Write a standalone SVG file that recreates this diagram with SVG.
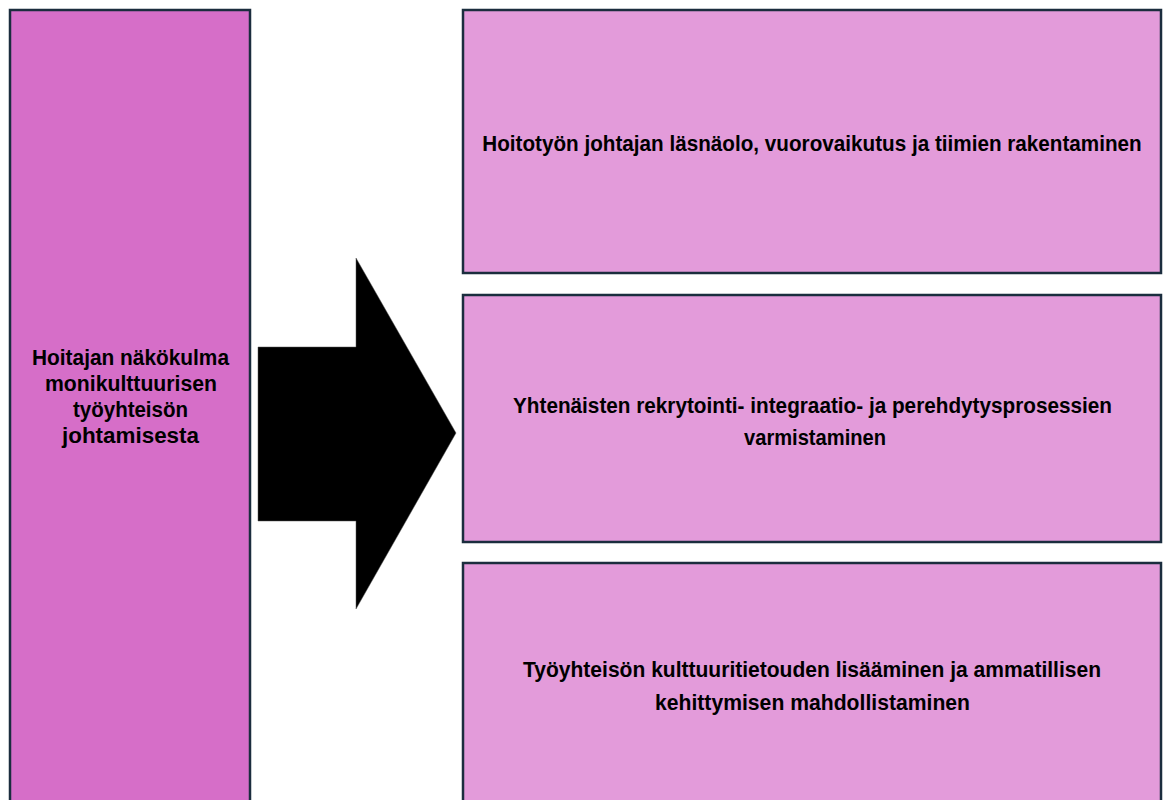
<svg xmlns="http://www.w3.org/2000/svg" width="1164" height="800" viewBox="0 0 1164 800">
<style>
.left{fill:#d66ec8;stroke:#1b2d3e;stroke-width:2.5}
.right{fill:#e39bda;stroke:#1b2d3e;stroke-width:2.5}
.t{font-family:"Liberation Sans",Arial,sans-serif;font-weight:bold;font-size:22px;fill:#000;text-anchor:middle}
</style>
<rect width="1164" height="800" fill="#ffffff"/>
<g id="source">
<rect class="left" x="10" y="10" width="240" height="800"/>
<text class="t" x="130.5" y="365" textLength="197" lengthAdjust="spacingAndGlyphs">Hoitajan näkökulma</text>
<text class="t" x="131" y="391" textLength="172" lengthAdjust="spacingAndGlyphs">monikulttuurisen</text>
<text class="t" x="130.5" y="417" textLength="115" lengthAdjust="spacingAndGlyphs">työyhteisön</text>
<text class="t" x="130.5" y="443" textLength="137" lengthAdjust="spacingAndGlyphs">johtamisesta</text>
</g>
<g id="connectors">
<polygon points="258,347 356,347 356,258 456,433 356,609 356,521 258,521" fill="#000" stroke="#555" stroke-width="0.5"/>
</g>
<g id="box1">
<rect class="right" x="463" y="10" width="698" height="263"/>
<text class="t" transform="translate(812,151) scale(0.87,1)" x="0" y="0" textLength="758" lengthAdjust="spacingAndGlyphs">Hoitotyön johtajan läsnäolo, vuorovaikutus ja tiimien rakentaminen</text>
</g>
<g id="box2">
<rect class="right" x="463" y="295" width="698" height="247"/>
<text class="t" x="812.5" y="413" textLength="599" lengthAdjust="spacingAndGlyphs">Yhtenäisten rekrytointi- integraatio- ja perehdytysprosessien</text>
<text class="t" x="815" y="445" textLength="142" lengthAdjust="spacingAndGlyphs">varmistaminen</text>
</g>
<g id="box3">
<rect class="right" x="463" y="563" width="698" height="250"/>
<text class="t" x="812" y="677" textLength="578" lengthAdjust="spacingAndGlyphs">Työyhteisön kulttuuritietouden lisääminen ja ammatillisen</text>
<text class="t" x="812.5" y="710" textLength="315" lengthAdjust="spacingAndGlyphs">kehittymisen mahdollistaminen</text>
</g>
</svg>
